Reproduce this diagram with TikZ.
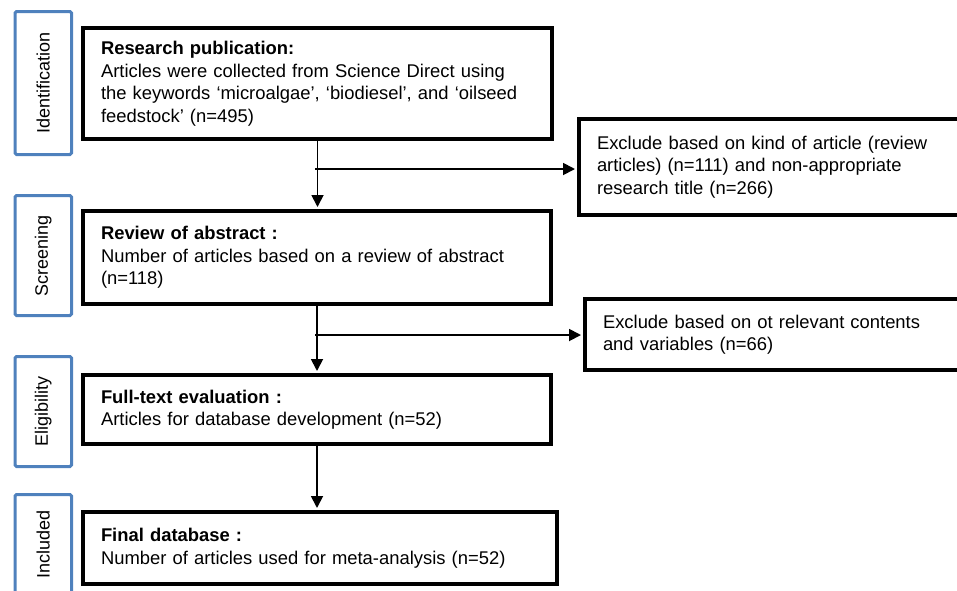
\documentclass[tikz,border=0pt]{standalone}
\usepackage{graphicx}
\usepackage{fontspec}
\setmainfont{Liberation Sans}
\usetikzlibrary{arrows.meta}
\definecolor{stageblue}{RGB}{79,129,189}
\begin{document}
\begin{tikzpicture}[x=1pt,y=-1pt,
  stage/.style={draw=stageblue,line width=3pt,rounded corners=1.5pt,minimum width=56.5pt,anchor=north west,inner sep=0pt,font=\fontsize{18}{22}\selectfont},
  mainbox/.style={draw,line width=4pt,anchor=north west,inner xsep=18pt,inner ysep=0pt,align=left,font=\fontsize{18.4}{22.5}\selectfont},
  flow/.style={line width=1.8pt,shorten >=2pt,-{Triangle[length=12pt,width=12pt]}}]
\clip (0,0) rectangle (957,590);
\node[stage,minimum height=143pt] (ident) at (13.5,10) {\rotatebox{90}{Identification}};
\node[stage,minimum height=120pt] (screen) at (13.5,194) {\rotatebox{90}{Screening}};
\node[stage,minimum height=110pt] (elig) at (13.5,355) {\rotatebox{90}{Eligibility}};
\node[stage,minimum height=99pt] (incl) at (13.5,493) {\rotatebox{90}{Included}};
\node[mainbox,text width=433pt,minimum height=111pt] (pub) at (81,26) {\textbf{Research publication:}\\Articles were collected from Science Direct using\\the keywords ‘microalgae’, ‘biodiesel’, and ‘oilseed\\feedstock’ (n=495)};
\node[mainbox,text width=432pt,minimum height=93pt] (abs) at (81,209) {\textbf{Review of abstract :}\\Number of articles based on a review of abstract\\(n=118)};
\node[mainbox,text width=432pt,minimum height=69pt] (full) at (81,373) {\textbf{Full-text evaluation :}\\Articles for database development (n=52)};
\node[mainbox,text width=438pt,minimum height=72pt] (final) at (81,510) {\textbf{Final database :}\\Number of articles used for meta-analysis (n=52)};
\node[mainbox,text width=349pt,minimum height=96pt] (ex1) at (577,117) {Exclude based on kind of article (review\\articles) (n=111) and non-appropriate\\research title (n=266)};
\node[mainbox,text width=343pt,minimum height=71pt] (ex2) at (583,297) {Exclude based on ot relevant contents\\and variables (n=66)};
\coordinate (j1) at (315,169);
\coordinate (j2) at (315,335);
\draw[flow] (pub.south) -- (pub.south |- abs.north);
\draw[flow] (j1) -- (j1 -| ex1.west);
\draw[flow] (abs.south) -- (abs.south |- full.north);
\draw[flow] (j2) -- (j2 -| ex2.west);
\draw[flow] (full.south) -- (full.south |- final.north);
\end{tikzpicture}
\end{document}
